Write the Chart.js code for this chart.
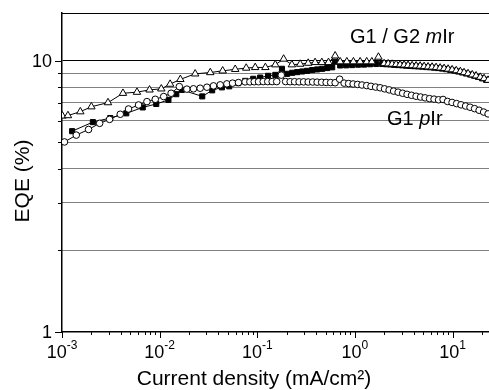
<!DOCTYPE html>
<html>
<head>
<meta charset="utf-8">
<script src="https://cdn.jsdelivr.net/npm/chart.js@4.4.1/dist/chart.umd.min.js"></script>
<style>
  html, body { margin: 0; padding: 0; background: #fff; overflow: hidden; }
  #wrap { width: 489px; height: 390px; }
</style>
</head>
<body>
<div id="wrap"><canvas id="eqeChart"></canvas></div>
<script>
const FONT = "'Liberation Sans', Arial, sans-serif";

// G1 / G2 mIr, open triangles
const triJ = [0.00101, 0.00115, 0.00154, 0.00200, 0.00296, 0.00421, 0.00586, 0.00788, 0.0104, 0.0128,
  0.0163, 0.0231, 0.0330, 0.0442, 0.0594, 0.0770, 0.0952, 0.121, 0.153, 0.186,
  0.226, 0.275, 0.332, 0.391, 0.458, 0.536, 0.627, 0.706, 0.826, 0.965,
  1.13, 1.32, 1.49, 1.74,
  1.99, 2.19, 2.40, 2.64, 2.90, 3.19, 3.50, 3.85, 4.23, 4.65, 5.11, 5.61, 6.17, 6.78,
  7.45, 8.19, 9.00, 9.89, 10.9, 12.0, 13.1, 14.4, 15.9, 17.4, 19.2, 21.0, 23.1];
const triEqe = [6.26, 6.28, 6.49, 6.77, 7.01, 7.59, 7.66, 7.81, 7.88, 8.20,
  8.54, 8.95, 9.05, 9.18, 9.30, 9.40, 9.45, 9.45, 9.67, 10.15,
  9.67, 9.72, 9.80, 9.86, 9.86, 9.86, 10.43, 9.92, 9.92, 9.92,
  9.92, 9.92, 9.92, 10.32,
  9.77, 9.75, 9.72, 9.70, 9.67, 9.65, 9.62, 9.60, 9.58, 9.56, 9.53, 9.50, 9.48, 9.45,
  9.41, 9.37, 9.32, 9.27, 9.20, 9.13, 9.05, 8.97, 8.88, 8.80, 8.70, 8.60, 8.48];

// filled squares
const sqJ = [0.00127, 0.00207, 0.00312, 0.00455, 0.00671, 0.00923, 0.0123, 0.0148, 0.0169, 0.0273,
  0.0345, 0.0434, 0.0516, 0.0638, 0.0752, 0.0908, 0.107, 0.129, 0.153, 0.179,
  0.202, 0.228, 0.256, 0.288, 0.324, 0.365, 0.410, 0.462, 0.520, 0.585,
  0.627, 0.706, 0.813, 0.936, 1.08, 1.24, 1.43, 1.65,
  1.90, 2.09, 2.30, 2.52, 2.77, 3.05, 3.35, 3.68, 4.04, 4.44, 4.88, 5.36, 5.89, 6.47,
  7.11, 7.81, 8.58, 9.43, 10.4, 11.4, 12.5, 13.7, 15.1, 16.6, 18.2, 20.0, 22.0];
const sqEqe = [5.50, 5.94, 6.15, 6.40, 6.73, 6.93, 7.17, 7.53, 7.81, 7.39,
  7.78, 7.98, 8.05, 8.27, 8.43, 8.58, 8.67, 8.80, 8.87, 9.34,
  8.95, 9.03, 9.08, 9.13, 9.18, 9.24, 9.29, 9.34, 9.40, 9.46,
  9.92, 9.61, 9.62, 9.64, 9.67, 9.68, 9.71, 9.73,
  9.73, 9.71, 9.69, 9.66, 9.64, 9.62, 9.59, 9.57, 9.55, 9.53, 9.51, 9.48, 9.46, 9.43,
  9.40, 9.36, 9.31, 9.26, 9.20, 9.13, 9.06, 8.98, 8.90, 8.81, 8.72, 8.62, 8.51];

// G1 pIr, open circles
const circJ = [0.00106, 0.00140, 0.00187, 0.00243, 0.00307, 0.00395, 0.00480, 0.00608, 0.00741, 0.00902,
  0.0110, 0.0131, 0.0159, 0.0190, 0.0222, 0.0260, 0.0305, 0.0356, 0.0417, 0.0488,
  0.0558, 0.0642,
  0.075, 0.084, 0.093, 0.103, 0.115, 0.128, 0.142, 0.158, 0.176, 0.195,
  0.217, 0.241, 0.268, 0.298, 0.332, 0.369, 0.410, 0.456, 0.507, 0.564,
  0.627, 0.697, 0.775, 0.862, 0.958, 1.065, 1.18, 1.32, 1.46, 1.63,
  1.81, 2.01, 2.24, 2.49, 2.77, 3.08, 3.42, 3.80, 4.23, 4.70,
  5.23, 5.81, 6.46, 7.19, 7.99, 8.88, 9.88, 11.0, 12.2, 13.6,
  15.1, 16.8, 18.7, 20.8, 23.1];
const circEqe = [5.02, 5.32, 5.58, 5.88, 6.08, 6.35, 6.64, 6.87, 7.07, 7.21,
  7.38, 7.59, 8.03, 7.86, 7.88, 7.92, 7.99, 8.08, 8.15, 8.22,
  8.27, 8.31,
  8.36, 8.36, 8.37, 8.37, 8.38, 8.38, 8.38, 8.38, 8.85, 8.38,
  8.37, 8.37, 8.36, 8.36, 8.35, 8.35, 8.34, 8.33, 8.32, 8.31,
  8.30, 8.55, 8.27, 8.24, 8.21, 8.18, 8.14, 8.10, 8.05, 8.00,
  7.95, 7.88, 7.81, 7.73, 7.66, 7.59, 7.52, 7.46, 7.40, 7.35,
  7.30, 7.25, 7.22, 7.18, 7.20, 7.08, 7.02, 6.95, 6.88, 6.81,
  6.74, 6.66, 6.57, 6.47, 6.37];

const yTicks = [1, 2, 3, 4, 5, 6, 7, 8, 9, 10];
const yLabels = ['1', '', '', '', '', '', '', '', '', '10'];
const xMajor = [1e-3, 1e-2, 1e-1, 1, 10];
const xExp = ['-3', '-2', '-1', '0', '1'];

const pts = (xs, ys) => xs.map((x, i) => ({ x, y: ys[i] }));

// ticks, frame, tick labels, titles and curve labels
const decor = {
  id: 'decor',
  afterDraw(chart) {
    const { ctx, chartArea: a, scales: { x, y } } = chart;
    ctx.save();
    ctx.strokeStyle = '#000';
    ctx.lineWidth = 1;

    // top frame line
    ctx.beginPath();
    ctx.moveTo(a.left, a.top + 0.5);
    ctx.lineTo(a.right, a.top + 0.5);
    ctx.stroke();

    // x ticks (major + minor)
    const xTicks = [];
    xMajor.forEach(m => {
      xTicks.push([m, true]);
      if (m < 10) for (let k = 2; k <= 9; k++) xTicks.push([m * k, false]);
    });
    xTicks.push([20, false]);
    xTicks.forEach(([v, major]) => {
      const px = Math.round(x.getPixelForValue(v)) + 0.5;
      if (px > a.right) return;
      ctx.beginPath();
      ctx.moveTo(px, a.bottom);
      ctx.lineTo(px, a.bottom + (major ? 6 : 3));
      ctx.stroke();
    });

    // y ticks and labels
    ctx.fillStyle = '#000';
    yTicks.forEach((v, i) => {
      const py = Math.round(y.getPixelForValue(v)) + 0.5;
      const len = yLabels[i] ? 7 : 4;
      ctx.beginPath();
      ctx.moveTo(a.left - len, py);
      ctx.lineTo(a.left, py);
      ctx.stroke();
      if (yLabels[i]) {
        ctx.font = `18px ${FONT}`;
        ctx.textAlign = 'right';
        ctx.textBaseline = 'middle';
        ctx.fillText(yLabels[i], a.left - 10, py + 1);
      }
    });

    // x tick labels 10^n
    ctx.textAlign = 'left';
    ctx.textBaseline = 'alphabetic';
    xMajor.forEach((v, i) => {
      const px = x.getPixelForValue(v);
      ctx.font = `18px ${FONT}`;
      const wb = ctx.measureText('10').width;
      ctx.font = `12px ${FONT}`;
      const we = ctx.measureText(xExp[i]).width;
      const left = px - (wb + we) / 2;
      ctx.font = `18px ${FONT}`;
      ctx.fillText('10', left, a.bottom + 26);
      ctx.font = `12px ${FONT}`;
      ctx.fillText(xExp[i], left + wb, a.bottom + 17);
    });

    // axis titles
    ctx.font = `21px ${FONT}`;
    ctx.textAlign = 'center';
    ctx.fillText('Current density (mA/cm²)', 254, 385);
    ctx.save();
    ctx.translate(23, 181);
    ctx.rotate(-Math.PI / 2);
    ctx.textBaseline = 'middle';
    ctx.fillText('EQE (%)', 0, 0);
    ctx.restore();

    // curve labels with italic prefixes
    const mixed = (parts, x0, y0) => {
      let cx = x0;
      ctx.textAlign = 'left';
      parts.forEach(([t, it]) => {
        ctx.font = `${it ? 'italic ' : ''}20px ${FONT}`;
        ctx.fillText(t, cx, y0);
        cx += ctx.measureText(t).width;
      });
    };
    mixed([['G1 / G2 ', false], ['m', true], ['Ir', false]], 350, 43);
    mixed([['G1 ', false], ['p', true], ['Ir', false]], 387, 125);

    ctx.restore();
  }
};

new Chart(document.getElementById('eqeChart'), {
  type: 'line',
  data: {
    datasets: [
      {
        label: 'G1 / G2 mIr (triangles)',
        data: pts(triJ, triEqe),
        pointStyle: 'triangle',
        pointRadius: 4.3,
        backgroundColor: '#fff',
        borderColor: '#000',
        borderWidth: 1,
        pointBorderWidth: 1
      },
      {
        label: 'G1 pIr',
        data: pts(circJ, circEqe),
        pointStyle: 'circle',
        pointRadius: 3.3,
        backgroundColor: '#fff',
        borderColor: '#000',
        borderWidth: 1,
        pointBorderWidth: 1
      },
      {
        label: 'G1 / G2 mIr (squares)',
        data: pts(sqJ, sqEqe),
        pointStyle: 'rect',
        pointRadius: 3.6,
        backgroundColor: '#000',
        borderColor: '#000',
        borderWidth: 1,
        pointBorderWidth: 1
      }
    ]
  },
  options: {
    responsive: true,
    maintainAspectRatio: false,
    animation: false,
    layout: { autoPadding: false, padding: { top: 13, right: 0, left: 0, bottom: 0 } },
    plugins: {
      legend: { display: false },
      tooltip: { enabled: false }
    },
    elements: { line: { tension: 0 } },
    scales: {
      x: {
        type: 'logarithmic',
        min: 1e-3,
        max: 23.6,
        grid: { display: false },
        border: { color: '#000', width: 1.5 },
        ticks: { display: false },
        afterFit: s => { s.height = 58; }
      },
      y: {
        type: 'logarithmic',
        min: 1,
        max: 15,
        afterBuildTicks: s => { s.ticks = yTicks.map(v => ({ value: v })); },
        afterFit: s => { s.width = 62; },
        ticks: { display: false },
        grid: {
          drawTicks: false,
          color: c => (c.tick && c.tick.value === 1) ? 'rgba(0,0,0,0)' : '#000',
          lineWidth: 1
        },
        border: {
          color: '#000',
          width: 1.5,
          dash: c => (c.type === 'tick' && c.tick && c.tick.value !== 10) ? [1, 1] : []
        }
      }
    }
  },
  plugins: [decor]
});
</script>
</body>
</html>
